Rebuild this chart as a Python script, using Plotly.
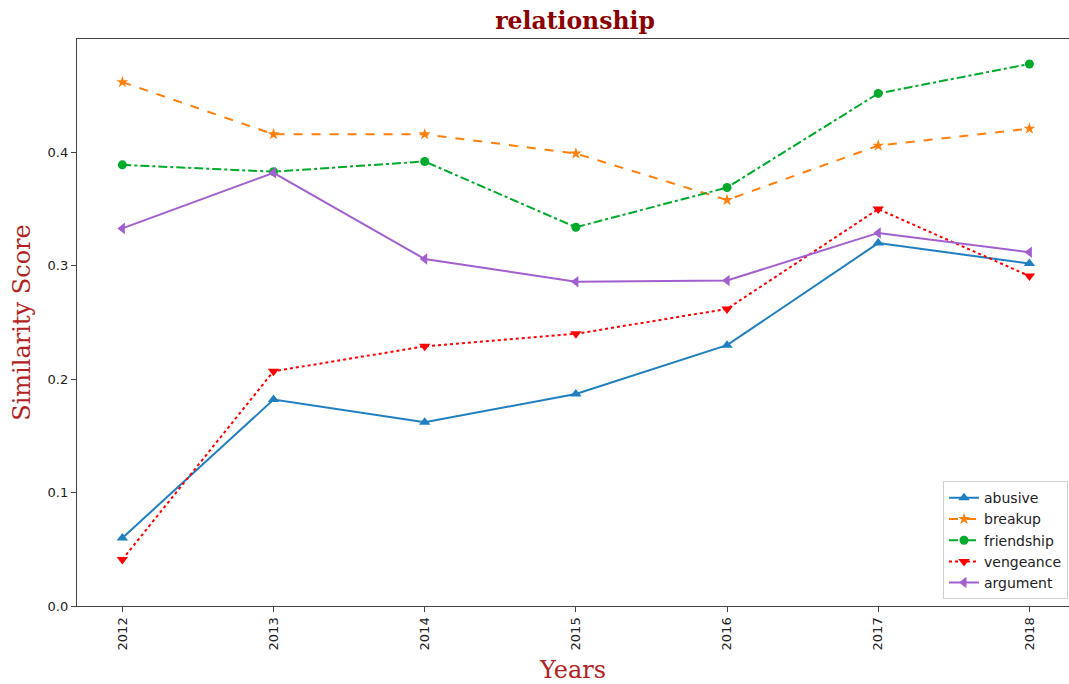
import plotly.graph_objects as go

years = [2012, 2013, 2014, 2015, 2016, 2017, 2018]
abusive = [0.060, 0.182, 0.162, 0.187, 0.230, 0.320, 0.302]
breakup = [0.462, 0.416, 0.416, 0.399, 0.358, 0.406, 0.421]
friendship = [0.389, 0.383, 0.392, 0.334, 0.369, 0.452, 0.478]
vengeance = [0.041, 0.207, 0.229, 0.240, 0.262, 0.350, 0.291]
argument = [0.333, 0.382, 0.306, 0.286, 0.287, 0.329, 0.312]
y_ticks = [0.0, 0.1, 0.2, 0.3, 0.4]

series = [
    ("abusive", abusive, "#1f7fc0", "solid", "triangle-up", 10),
    ("breakup", breakup, "#ff7f0e", "dash", "star", 9),
    ("friendship", friendship, "#00aa2a", "dashdot", "circle", 9),
    ("vengeance", vengeance, "#ff0000", "dot", "triangle-down", 10),
    ("argument", argument, "#a25fcf", "solid", "triangle-left", 10),
]

fig = go.Figure()
for name, vals, color, dash, symbol, msize in series:
    fig.add_trace(go.Scatter(
        x=years, y=vals, name=name, mode="lines+markers",
        line=dict(color=color, width=2, dash=dash),
        marker=dict(symbol=symbol, size=msize, color=color),
    ))

serif = "DejaVu Serif"
fig.update_layout(
    width=1069, height=684,
    paper_bgcolor="white", plot_bgcolor="white",
    margin=dict(l=77, r=0, t=39, b=78),
    font=dict(family="DejaVu Sans", size=13, color="#222222"),
    title=dict(text="<b>relationship</b>", x=575 / 1069, xanchor="center",
               y=1 - 21 / 684, yanchor="middle",
               font=dict(family=serif, size=23.5, color="#8b0000")),
    showlegend=True,
    legend=dict(x=0.999, y=0.012, xanchor="right", yanchor="bottom",
                bgcolor="rgba(255,255,255,0.9)", bordercolor="#d0d0d0", borderwidth=1,
                font=dict(size=14, color="#222222"), tracegroupgap=0),
)
fig.update_xaxes(
    range=[2011.7, 2018.262], tickmode="array", tickvals=years,
    ticktext=[str(y) for y in years], tickangle=-90,
    showgrid=False, zeroline=False, showline=True, linecolor="#444444", linewidth=1.3,
    mirror=True, ticks="outside", ticklen=5, tickcolor="#444444",
    title=dict(text="Years", font=dict(family=serif, size=24, color="#b22222"), standoff=12),
)
fig.update_yaxes(
    range=[0, 0.5], tickmode="array", tickvals=y_ticks,
    ticktext=[f"{v:.1f}" for v in y_ticks],
    showgrid=False, zeroline=False, showline=True, linecolor="#444444", linewidth=1.3,
    mirror=False, ticks="outside", ticklen=5, tickcolor="#444444",
    title=dict(text="Similarity Score", font=dict(family=serif, size=24, color="#b22222"), standoff=10),
)

fig.write_html("out.html")
